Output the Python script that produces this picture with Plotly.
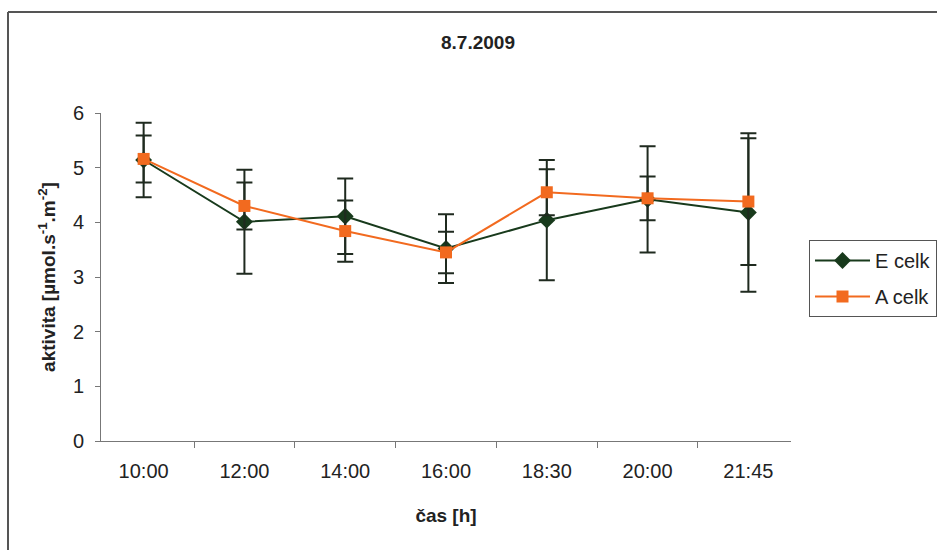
import plotly.graph_objects as go

categories = ["10:00", "12:00", "14:00", "16:00", "18:30", "20:00", "21:45"]
e_values = [5.14, 4.01, 4.11, 3.52, 4.04, 4.42, 4.18]
e_errors = [0.68, 0.95, 0.69, 0.63, 1.10, 0.97, 1.45]
a_values = [5.16, 4.30, 3.84, 3.45, 4.55, 4.44, 4.38]
a_errors = [0.43, 0.43, 0.56, 0.38, 0.42, 0.40, 1.16]

FONT = "Liberation Sans, Arial, sans-serif"
GREEN = "#183a1c"
ORANGE = "#f26a1f"
ERRCOL = "#1f2a1f"

fig = go.Figure()
fig.add_trace(go.Scatter(
    x=categories, y=e_values, name="E celk", mode="lines+markers", legendgroup="e",
    line=dict(color=GREEN, width=2),
    marker=dict(symbol="diamond", size=13, color=GREEN),
    error_y=dict(type="data", array=e_errors, visible=True, color=ERRCOL, thickness=2, width=8),
))
fig.add_trace(go.Scatter(
    x=categories, y=a_values, name="A celk", mode="lines+markers", legendgroup="a",
    line=dict(color=ORANGE, width=2),
    marker=dict(symbol="square", size=12, color=ORANGE),
    error_y=dict(type="data", array=a_errors, visible=True, color=ERRCOL, thickness=2, width=8),
))

W, H = 937, 550
L, R, T, B = 101, 146, 113, 109
pw, ph = W - L - R, H - T - B

def px(x):
    return (x - L) / pw

def py(y):
    return (H - B - y) / ph

fig.update_layout(
    width=W, height=H,
    margin=dict(l=L, r=R, t=T, b=B, autoexpand=False),
    paper_bgcolor="white", plot_bgcolor="white",
    font=dict(family=FONT, size=20, color="#222"),
    title=dict(text="<b>8.7.2009</b>", x=478 / W, xanchor="center", y=1 - 42 / H, yanchor="middle",
               font=dict(size=19, color="#222")),
    showlegend=True,
    legend=dict(x=px(809), y=py(240), xanchor="left", yanchor="top",
                bordercolor="#555", borderwidth=1, bgcolor="white",
                font=dict(size=20, color="#222"), itemwidth=55,
                traceorder="grouped", tracegroupgap=7),
    xaxis=dict(
        type="category", showgrid=False, zeroline=False, automargin=False,
        showline=True, linecolor="#777", linewidth=1,
        ticks="outside", ticklen=6, tickcolor="#777", tickson="boundaries",
        tickfont=dict(size=20, color="#222"), ticklabelstandoff=12,
        title=dict(text="<b>čas [h]</b>", font=dict(size=19, color="#222"), standoff=27),
    ),
    yaxis=dict(
        range=[0, 6], dtick=1, showgrid=False, zeroline=False, automargin=False,
        showline=True, linecolor="#777", linewidth=1,
        ticks="outside", ticklen=5, tickcolor="#777",
        tickfont=dict(size=20, color="#222"), ticklabelstandoff=7,
        title=dict(text="<b>aktivita [µmol.s<sup>-1</sup>.m<sup>-2</sup>]</b>",
                   font=dict(size=19, color="#222"), standoff=12),
    ),
    shapes=[
        dict(type="line", xref="paper", yref="paper", x0=px(8), x1=px(960), y0=py(12), y1=py(12),
             line=dict(color="#555", width=2)),
        dict(type="line", xref="paper", yref="paper", x0=px(8), x1=px(8), y0=py(12), y1=py(570),
             line=dict(color="#555", width=2)),
    ],
)

fig.write_html("out.html")
